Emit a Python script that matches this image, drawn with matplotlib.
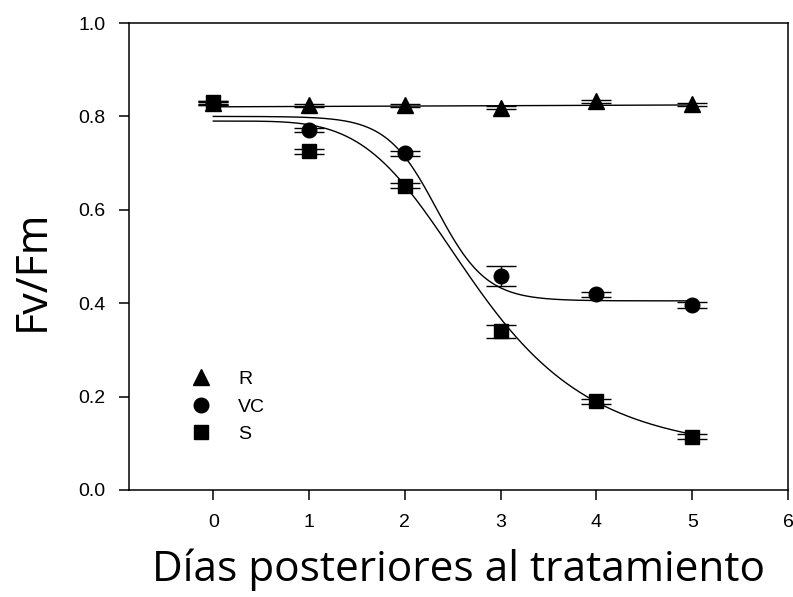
import numpy as np
import matplotlib
matplotlib.use("Agg")
import matplotlib.pyplot as plt
from matplotlib.lines import Line2D

# ---- data ----
days = [0, 1, 2, 3, 4, 5]
R_vals = [0.828, 0.824, 0.824, 0.819, 0.832, 0.826]
VC_vals = [0.828, 0.771, 0.721, 0.458, 0.419, 0.396]
S_vals = [0.830, 0.725, 0.652, 0.340, 0.190, 0.114]
R_err = [0.003, 0.003, 0.003, 0.004, 0.003, 0.003]
VC_err = [0.004, 0.005, 0.005, 0.022, 0.005, 0.006]
S_err = [0.004, 0.005, 0.006, 0.014, 0.005, 0.005]
labels = ["R", "VC", "S"]

# fitted-curve parameters
R_fit = dict(intercept=0.8205, slope=0.0008)              # linear
VC_fit = dict(y0=0.405, a=0.395, x0=2.33, b=0.26)         # sigmoid in x
S_fit = dict(y0=0.07, a=0.72, x0=2.77, b=4.42)            # log-logistic

xticks = [0, 1, 2, 3, 4, 5, 6]
yticks = [0.0, 0.2, 0.4, 0.6, 0.8, 1.0]

# ---- figure ----
fig = plt.figure(figsize=(7.93, 5.97), dpi=100)
ax = fig.add_axes([129/793, 1-490/597, (788-129)/793, (490-23)/597])

xs = np.linspace(days[0], days[-1], 300)
R_curve = R_fit["intercept"] + R_fit["slope"] * xs
VC_curve = VC_fit["y0"] + VC_fit["a"] / (1 + np.exp((xs - VC_fit["x0"]) / VC_fit["b"]))
S_curve = S_fit["y0"] + S_fit["a"] / (1 + (xs / S_fit["x0"]) ** S_fit["b"])

for c in (R_curve, VC_curve, S_curve):
    ax.plot(xs, c, color="black", lw=1.0, zorder=2)

markers = ["^", "o", "s"]
sizes = [11, 10.5, 10.5]
kw = dict(color="black", ls="none", elinewidth=1.0, capsize=11, capthick=1.0, zorder=3)
for vals, err, m, ms in zip((R_vals, VC_vals, S_vals), (R_err, VC_err, S_err), markers, sizes):
    ax.errorbar(days, vals, yerr=err, marker=m, ms=ms, **kw)

ax.set_xlim(-0.88, 6)
ax.set_ylim(0, 1.0)
ax.set_xticks(xticks)
ax.set_yticks(yticks)
ax.set_xticklabels([str(t) for t in xticks])
ax.set_yticklabels([f"{t:.1f}" for t in yticks])

for s in ax.spines.values():
    s.set_linewidth(1.1)
ax.tick_params(direction="out", length=7, width=1.1, pad=10,
               labelsize=14, colors="black")
for lab in ax.get_xticklabels() + ax.get_yticklabels():
    lab.set_family(["Liberation Sans", "DejaVu Sans"])

ax.set_xlabel("Días posteriores al tratamiento", fontsize=30.5,
              family=["Open Sans", "DejaVu Sans"], labelpad=13)
ax.set_ylabel("Fv/Fm", fontsize=31, family=["Open Sans", "DejaVu Sans"])
ax.yaxis.set_label_coords(-0.112, 0.47)

handles = [Line2D([], [], color="black", ls="none", marker=m, ms=ms)
           for m, ms in zip(markers, sizes)]
leg = ax.legend(handles, labels, loc="upper left", bbox_to_anchor=(0.068, 0.294),
                frameon=False, handlelength=1.0, handletextpad=1.4,
                labelspacing=0.52, prop=dict(family="Liberation Sans", size=14))

fig.savefig("out.png", dpi=100)
